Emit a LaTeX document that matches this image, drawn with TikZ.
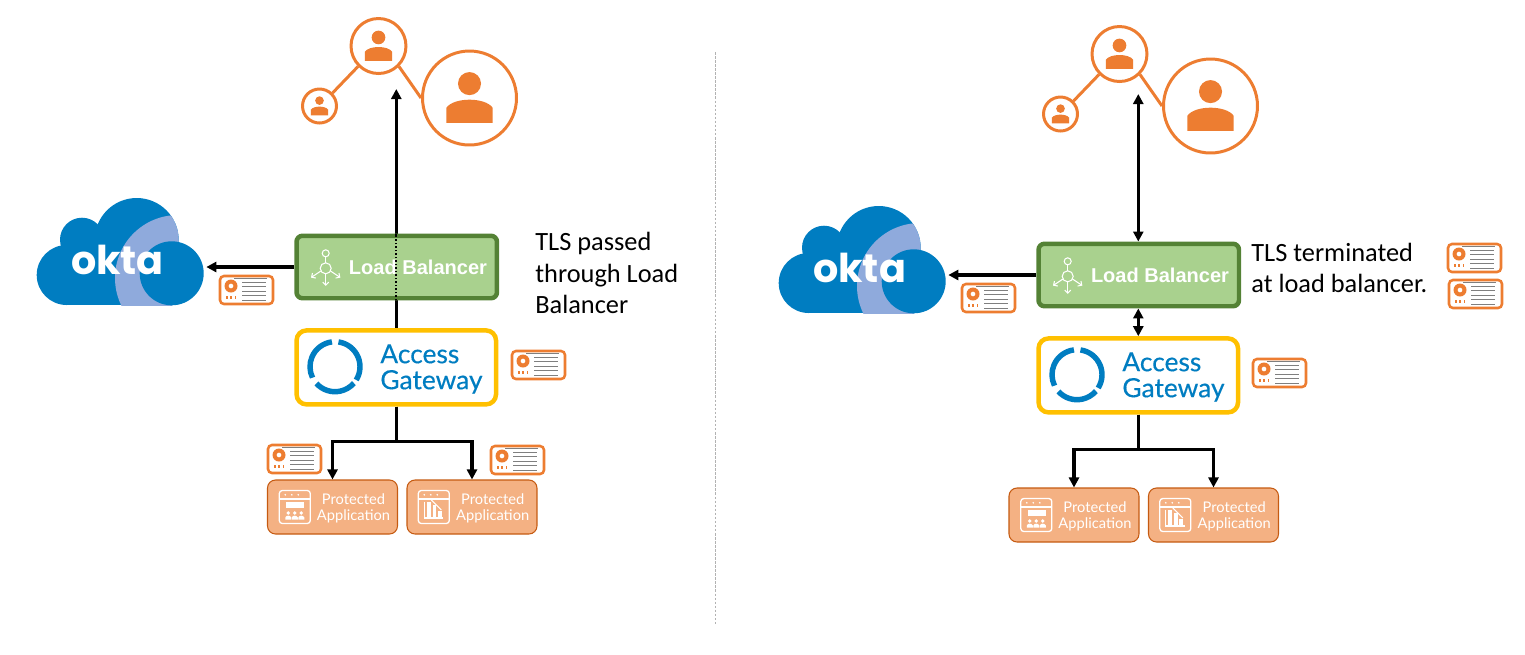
\documentclass[tikz,border=0pt]{standalone}
\usepackage{fontspec}
\usepackage{tikz, xcolor}
\usetikzlibrary{arrows.meta, backgrounds}

\newfontfamily\notefont{Carlito}
\newfontfamily\appfont{Lato}
\newfontfamily\agwfont[FakeBold=.35]{Lato}
\newfontfamily\lbfont{Liberation Sans}
\newfontfamily\oktafont{Poppins}

\definecolor{oktablue}{HTML}{007DC1}
\definecolor{bandblue}{HTML}{8FAADC}
\definecolor{userorange}{HTML}{ED7D31}
\definecolor{appfill}{HTML}{F4B183}
\definecolor{appline}{HTML}{C55A11}
\definecolor{lbfill}{HTML}{A9D18E}
\definecolor{lbline}{HTML}{548235}
\definecolor{agwline}{HTML}{FFC000}
\definecolor{certgray}{HTML}{7F7F7F}

\tikzset{
  conn/.style={line width=1.8pt, color=black},
  tipend/.style={-{Triangle[length=.2cm, width=.2cm]}},
  tipboth/.style={{Triangle[length=.2cm, width=.2cm]}-{Triangle[length=.2cm, width=.2cm]}},
  usercircle/.style={circle, draw=userorange, line width=1.7pt, fill=white, inner sep=0},
  userlink/.style={line width=1.7pt, color=userorange},
  lbbox/.style={draw=lbline, fill=lbfill, line width=2.55pt, rounded corners=.12cm,
    minimum width=4.01cm, minimum height=1.25cm},
  lbtext/.style={text=white, font=\lbfont\fontsize{11.4}{12}\selectfont\bfseries, inner sep=0},
  agwbox/.style={draw=agwline, fill=white, line width=2.55pt, rounded corners=.2cm,
    minimum width=3.99cm, minimum height=1.48cm},
  agwtext/.style={text=oktablue, align=left, anchor=west, inner sep=0,
    font=\agwfont\fontsize{15}{14.8}\selectfont},
  appbox/.style={draw=appline, fill=appfill, line width=.6pt, rounded corners=.16cm,
    minimum width=2.6cm, minimum height=1.08cm},
  apptext/.style={text=white, align=center, inner sep=0,
    font=\appfont\fontsize{8.35}{9.07}\selectfont},
  notetext/.style={align=left, anchor=west, inner sep=0,
    font=\notefont\fontsize{15}{18.14}\selectfont},
  divider/.style={color=black!30, line width=.5pt, dash pattern=on 1.5pt off .8pt},
  pics/person/.style={code={
    \fill [userorange] (0,-15) circle (12);
    \fill [userorange] (-24,26) -- (-24,10) .. controls (-16,-1) and (16,-1) .. (24,10) -- (24,26) -- cycle;
  }},
  pics/certcard/.style={code={
    \draw [userorange, line width=1.45pt, fill=white, rounded corners=.08cm] (1,1) rectangle (54,29);
    \fill [userorange, even odd rule] (12,11) circle (6.5) (12,11) circle (2.5);
    \foreach \tx in {7,11.3,15.6} \fill [userorange] (\tx,20.5) rectangle +(1.7,3);
    \draw [certgray, line width=.5pt] (15,3) -- (48,3);
    \foreach \ty in {7,11.5,16,20.5,25} \draw [certgray, line width=.5pt] (23,\ty) -- (47,\ty);
  }},
  pics/oktacloud/.style={code={
    \node (-box) [minimum width=3.4cm, minimum height=2.14cm, inner sep=0] at (85,53.5) {};
    \fill [oktablue] (30.7,77) circle (30);
    \fill [oktablue] (46,41.7) circle (22);
    \fill [oktablue] (100.7,42) circle (42);
    \fill [oktablue] (30.7,50) rectangle (136,107);
    \begin{scope}
      \clip (100.7,42) circle (42);
      \fill [bandblue] (142,80) circle (63);
    \end{scope}
    \begin{scope}
      \clip (30,75) rectangle (136,107);
      \fill [bandblue] (142,80) circle (63);
    \end{scope}
    \fill [oktablue] (135.7,75.3) circle (32);
    \node [text=white, inner sep=0, font=\oktafont\fontsize{22.6}{22.6}\selectfont\bfseries] at (81.5,61.5) {okta};
  }},
  pics/lbicon/.style={code={
    \draw [white, line width=.6pt] (0,-15) circle (3.5) (0,0) circle (5.5);
    \draw [white, line width=.6pt] (0,-11.5) -- (0,-5.5);
    \draw [white, line width=.6pt, -{Straight Barb[length=.06cm, width=.12cm]}] (0,5.5) -- (0,17.5);
    \draw [white, line width=.6pt, -{Straight Barb[length=.06cm, width=.12cm]}] (-4.8,2.7) -- (-14.7,9.3);
    \draw [white, line width=.6pt, -{Straight Barb[length=.06cm, width=.12cm]}] (4.8,2.7) -- (14.7,9.3);
  }},
  pics/agwicon/.style={code={
    \draw [oktablue, line width=3.1pt] (-97:25) arc [start angle=-97, end angle=-206, radius=25];
    \draw [oktablue, line width=3.1pt] (-82:25) arc [start angle=-82, end angle=32, radius=25];
    \draw [oktablue, line width=3.1pt] (-222:25) arc [start angle=-222, end angle=-319, radius=25];
  }},
  pics/appwindow/.style={code={
    \draw [white, line width=.75pt, rounded corners=.06cm] (0,0) rectangle (31,33);
    \draw [white, line width=.75pt] (0,8.5) -- (31,8.5);
    \foreach \dx in {6,12.5,19} \fill [white] (\dx,4.3) circle (.9);
  }},
  pics/apppeople/.style={code={
    \pic {appwindow};
    \fill [white] (6.7,11.7) rectangle (24.7,17.7);
    \foreach \dx in {9,15.5,22} {
      \fill [white] (\dx,22.5) circle (1.9);
      \fill [white] (\dx-3,29) -- (\dx-3,27) .. controls (\dx-2,24.5) and (\dx+2,24.5) .. (\dx+3,27) -- (\dx+3,29) -- cycle;
    }
  }},
  pics/appbars/.style={code={
    \pic {appwindow};
    \draw [white, line width=.75pt] (6,11) -- (6,27.5) -- (25,27.5);
    \fill [white] (8.3,11) rectangle (12.3,26);
    \fill [white] (14.3,14.3) rectangle (17.7,26);
    \fill [white] (19.3,20) rectangle (23.3,26);
    \draw [white, line width=.6pt] (13,9.5) -- (23,19.5);
  }},
}

\begin{document}
\begin{tikzpicture}[x=.02cm, y=-.02cm]
  \useasboundingbox (0,0) rectangle (1525,654);

  % divider
  \coordinate (divtop) at (715.5,52);
  \coordinate (divbot) at (715.5,625);
  \draw [divider] (divtop) -- (divbot);

  % left side
  \node (bigL) [usercircle, minimum size=1.88cm] at (469.5,98) {};
  \node (midL) [usercircle, minimum size=1.1cm] at (378.5,46) {};
  \node (smallL) [usercircle, minimum size=.68cm] at (319.5,106) {};
  \pic [scale=.96] at (bigL) {person};
  \pic [scale=.57] at (midL) {person};
  \pic [scale=.36] at (smallL) {person};
  \draw [userlink] (smallL.45) -- (midL.225);
  \draw [userlink] (midL.-45) -- (bigL.180);
  \coordinate (topL) at (396.3,89);

  \pic (oktaL) at (36,198) {oktacloud};
  \node (lbL) [lbbox] at (396.75,267) {};
  \node (agwL) [agwbox] at (396.3,367.4) {};
  \node (appaL) [appbox] at (332.5,507) {};
  \node (appbL) [appbox] at (472,507) {};

  \begin{pgfonlayer}{background}
    \draw [conn, tipend] (agwL.north) -- (agwL.north |- topL);
  \end{pgfonlayer}
  \draw [conn, tipend] (lbL.west) -- (lbL.west -| oktaL-box.east);
  \draw [conn, tipend] (agwL.south) -- ++(0,35) -| (appaL.north);
  \draw [conn, tipend] (agwL.south) -- ++(0,35) -| (appbL.north);

  \pic at (325.7,268.3) {lbicon};
  \node [lbtext] at (418,267) {Load Balancer};
  \draw [black, line width=1pt, densely dotted] (agwL.north |- lbL.south) -- (agwL.north |- lbL.north);
  \pic at (335,366.7) {agwicon};
  \node [agwtext] at (380,369) {Access\\Gateway};
  \pic at (279.3,490.5) {apppeople};
  \node [apptext] at (353.5,508.5) {Protected\\Application};
  \pic at (418.3,490.5) {appbars};
  \node [apptext] at (492.7,508.5) {Protected\\Application};

  \pic at (219,275) {certcard};
  \pic at (511,350) {certcard};
  \pic at (267,444) {certcard};
  \pic at (490,445) {certcard};

  \node [notetext] at (535,273) {TLS passed\\through Load\\Balancer};

  % right side
  \node (bigR) [usercircle, minimum size=1.88cm] at (1210.5,106) {};
  \node (midR) [usercircle, minimum size=1.1cm] at (1119.5,54) {};
  \node (smallR) [usercircle, minimum size=.68cm] at (1060.5,114) {};
  \pic [scale=.96] at (bigR) {person};
  \pic [scale=.57] at (midR) {person};
  \pic [scale=.36] at (smallR) {person};
  \draw [userlink] (smallR.45) -- (midR.225);
  \draw [userlink] (midR.-45) -- (bigR.180);
  \coordinate (topR) at (1138.3,94);

  \pic (oktaR) at (778,206) {oktacloud};
  \node (lbR) [lbbox] at (1138.75,275) {};
  \node (agwR) [agwbox] at (1138.3,375.4) {};
  \node (appaR) [appbox] at (1074,515) {};
  \node (appbR) [appbox] at (1213.5,515) {};

  \draw [conn, tipboth] (agwR.north |- lbR.north) -- (agwR.north |- topR);
  \draw [conn, tipboth] (agwR.north |- lbR.south) -- (agwR.north);
  \draw [conn, tipend] (lbR.west) -- (lbR.west -| oktaR-box.east);
  \draw [conn, tipend] (agwR.south) -- ++(0,35) -| (appaR.north);
  \draw [conn, tipend] (agwR.south) -- ++(0,35) -| (appbR.north);

  \pic at (1067.7,276.3) {lbicon};
  \node [lbtext] at (1160,275) {Load Balancer};
  \pic at (1077,374.7) {agwicon};
  \node [agwtext] at (1122,377) {Access\\Gateway};
  \pic at (1020.8,498.5) {apppeople};
  \node [apptext] at (1095,516.5) {Protected\\Application};
  \pic at (1159.8,498.5) {appbars};
  \node [apptext] at (1234.2,516.5) {Protected\\Application};

  \pic at (961,283) {certcard};
  \pic at (1252,358) {certcard};
  \pic at (1447,243) {certcard};
  \pic at (1448,279) {certcard};

  \node [notetext] at (1251,268) {TLS terminated\\at load balancer.};
\end{tikzpicture}
\end{document}
